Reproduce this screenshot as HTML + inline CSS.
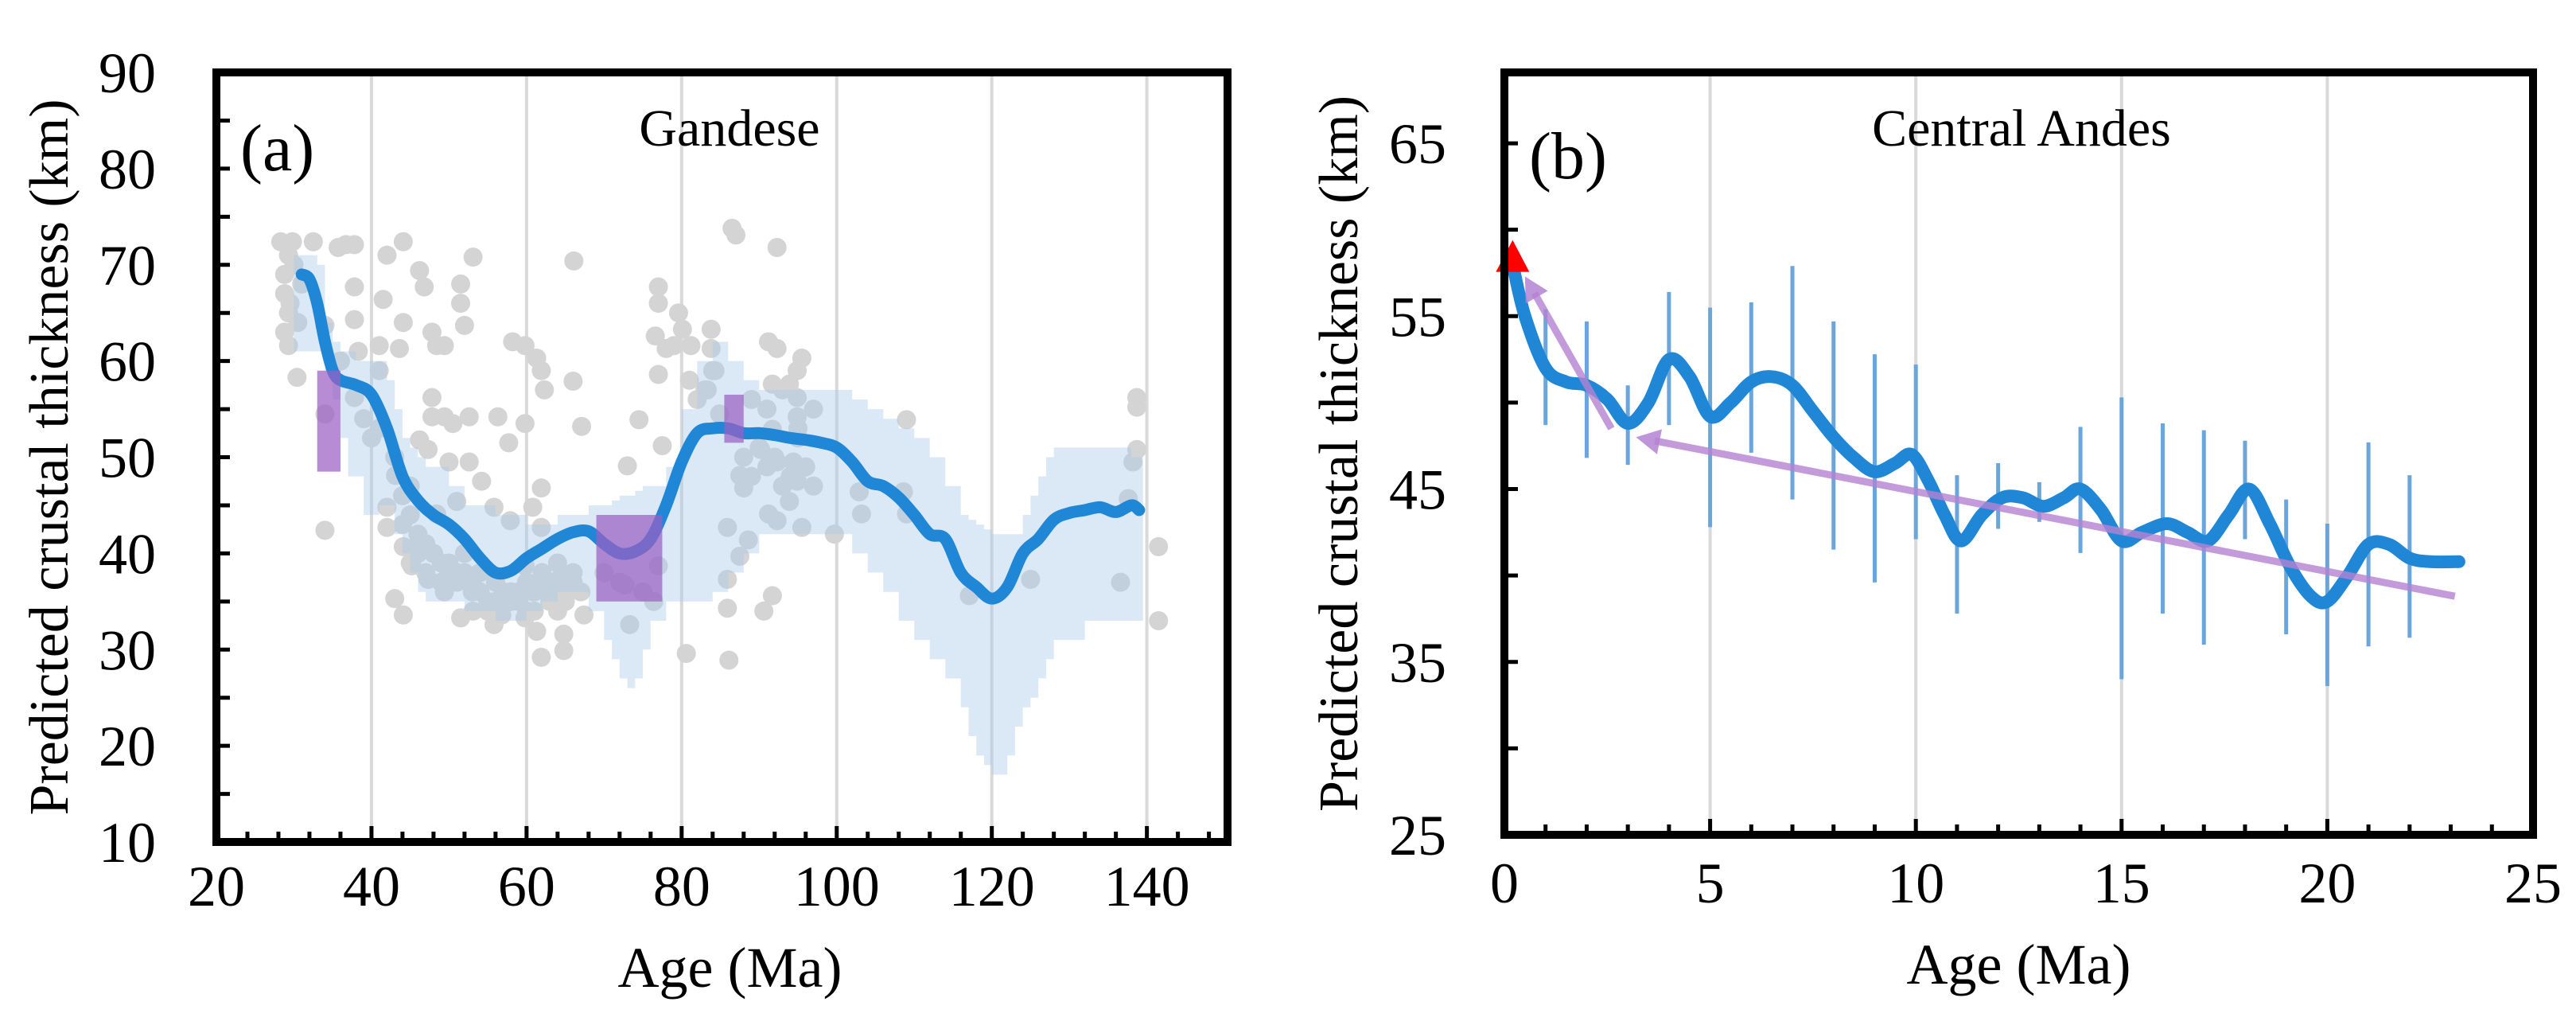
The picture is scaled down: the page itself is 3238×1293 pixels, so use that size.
<!DOCTYPE html>
<html><head><meta charset="utf-8"><style>
html,body{margin:0;padding:0;background:#fff;}
svg{display:block;}
svg text{font-family:"Liberation Serif","Times New Roman",serif;}
</style></head><body>
<svg id="fig" width="3238" height="1293" viewBox="0 0 3238 1293" xmlns="http://www.w3.org/2000/svg" font-family="Liberation Serif, serif">
<g id="pa"></g>
<g id="pb"></g>
</svg>
<script>
// ---------- Panel A data ----------
const aLineX=[31,32,33,34,35,36,38,40,42,44,46,48,50,52,54,56,58,60,62,64,66,68,70,72,74,76,78,80,82,84,86,88,90,92,94,96,98,100,102,104,106,108,110,112,114,116,118,120,122,124,126,128,130,132,134,136,138,139];
const aLineY=[69,68.5,66,62,59,58,57.5,56.5,53,48,45.5,44,43,41.5,39.5,38,38.2,39.5,40.5,41.5,42.2,42.3,41,40,40.2,41.5,45,49.5,52.5,53,53,52.5,52.5,52.3,52,51.8,51.5,51,49.5,47.5,47,45.8,44,42,41.5,38,36.5,35.3,36.5,40,41.5,43.5,44.2,44.5,44.8,44.3,45,44.5];
const aBandX=[30,31.5,33,34,35,36,37,38,39,40,41,42,43,44,45,46,47,48,50,52,54,56,58,60,62,64,66,68,70,71,72,73,74,75,76,78,80,82,84,86,88,90,92,94,96,98,100,102,104,106,108,110,112,114,116,117,118,119,120,121,122,123,124,125,126,127,128,130,132,134,136,138,139.5];
const aBandHi=[71,71,70,64,62,61,61,60,60,60,60,58,55,52,51,50,49,49,47,45,45,44,44,43,43,44,44,45,45,45.5,46,46,46.5,47,47,49,55,60,62,60,58,57,57,57,57,57,57,56,55,54,53,52,50,47,44,43.5,43,42.5,42,42,42,42,44,46,48,50,51,51,51,51,51,50,50];
const aBandLo=[61,61,61,59,56,52,48,48,44,44,45,45,42,40,38,36,35,35,35,34,34,33,33,34,35,36,36,34,31,29,27,26,27,30,33,35,35,35,36,38,40,42,42,42,42,42,42,40,38,36,33,31,29,27,24,21,19,18,17,17,19,22,24,25,27,29,31,31,33,33,33,33,33];
const aDotX=[28.3,29.8,29.3,28.8,28.8,29.3,28.8,29.3,30.4,32.5,35.7,36.7,37.8,34,34,34,37.8,37.8,41,41,37.8,38.3,42,44.1,41.5,44.1,43.6,46.2,46.8,47.8,48.4,49.4,51.5,51.5,52,53.1,47.8,47.8,49.4,50.5,52.6,46.2,47.3,50,52.6,43.1,42,42,44.1,45.2,47.3,49.4,51.5,53.1,43,44.1,55.8,56.8,48.4,51,54.2,55.8,57.9,56.3,58.2,59.8,61.3,61.9,62.3,59.8,57.7,61.9,60.8,61.9,59.8,60.8,59.8,61.3,61.9,64.8,64.8,66.1,66,67.1,64.2,67.4,73,74.5,72.7,73.3,77,77,76.6,78,77,80.1,79.6,79,81.2,77.5,77,76.4,80.6,83.8,83.8,84.3,83.3,84.9,86.5,87,85.9,85.9,85.9,86.1,87.5,88,87.5,88.6,90.2,92.3,91.2,92.3,91.7,91.7,92.3,91.2,90.6,91.7,93.9,94.9,95.5,94.9,94.9,94.4,94.9,93.9,95.5,92.3,99.7,103.2,102.9,109,108.6,109,125,136.6,138.7,138.7,138.7,138.2,137.6,141.5,141.5,117.1,46,50,54,57,63,70,72,75,44,45,46,47,48,49,50,51,52,53,54,55,56,57,58,59,60,61,62,63,64,65,66,67,44,46,48,50,52,54,56,58,60,62,64,66,45,47,49,51,53,55,57,59,61,63,65,30,31,29.5,30.5,36,39,40,41,43,45,88,89,90,91,92,93,94,95,96,97,89,91,93,95,97,81,82,83,84];
const aDotY=[72.4,72.4,71,69,67,65,63,61.6,58.3,72.4,71.8,72.1,72.1,42.4,54.5,63.7,67.7,64.3,61.6,59,56.2,61,71,72.4,66.4,64,61.3,69.4,67.7,63,61.6,61.6,68,66,63.7,70.8,56.2,54.2,54.2,53.5,54.2,51.8,50.8,49.5,49.5,48.1,44.8,42.7,40.7,38.7,37.3,36,33.3,34,35.3,33.6,32.6,33.6,44.1,45.4,47.5,44.8,43.4,54.2,62,61.6,60.3,59,57,53.5,51.5,46.8,44.8,42.7,38.7,36,33.3,31.9,29.2,31.6,29.9,70.4,57.9,53.2,37.3,33.6,49.1,53.9,36.7,32.6,67.7,66,62.6,61.3,58.6,63.3,65,61.6,61.6,51.2,38.7,35,29.6,63.3,61.3,59,57,54.5,73.8,73.1,42.7,37.3,34.3,28.9,48.1,46.8,39.7,41.4,50.8,71.8,62,61.3,57.6,52.9,49.5,44.1,34,35.6,57.6,59,60.3,56.2,54.2,49.5,47.5,45.4,42.7,43.4,42,44.1,46.4,53.9,46.4,44.1,37.3,37,56.2,55.2,50.8,49.5,45.7,40.7,33,35.6,40,38,36,35,36,38,37,36,46,44,42,41,40,39,38,37,38,37,36,35,35,36,35,35,34,36,37,35,34,36,37,36,43,41,40,39,40,38,37,36,37,38,39,38,39,38,37,38,36,34,35,36,34,36,35,70,68,66,64,60,54,52,53,50,47,50,48,51,49,50,47,48,52,49,47,56,55,57,53,55,58,56,57,59];
const aBoxX0=[33,69,85.5], aBoxX1=[36,77.5,88], aBoxY0=[48.5,35,51.5], aBoxY1=[59,44,56.5];
const aXTicks=[20,40,60,80,100,120,140];
const aYTicks=[10,20,30,40,50,60,70,80,90];
// ---------- Panel B data ----------
const bLineX=[0.2,0.5,1,1.5,2,2.5,3,3.5,4,4.5,5,5.5,6,6.5,7,7.5,8,8.5,9,9.5,9.9,10.3,10.7,11.1,11.6,12.1,12.6,13.1,13.6,14,14.5,15,15.5,16.1,16.6,17.1,17.6,18.1,18.6,19.1,19.6,20,20.5,21,21.5,22,22.5,23.2];
const bLineY=[58,55,52,51.2,51,50.2,48.8,50,52.5,51.5,49.2,50,51.2,51.5,51,49.5,48,46.8,46,46.5,47,45.5,43.5,42,43.5,44.5,44.5,44,44.5,45,43.8,42,42.5,43,42.5,42,43.5,45,43,40.5,38.8,38.5,40,41.8,41.8,41,40.8,40.8];
const bErrX=[1,2,3,4,5,6,7,8,9,10,11,12,13,14,15,16,17,18,19,20,21,22];
const bErrHi=[55.4,54.7,51,56.4,55.5,55.8,57.9,54.7,52.8,52.2,45.8,46.5,45.4,48.6,50.3,48.8,48.4,47.8,44.4,43,47.7,45.8];
const bErrLo=[48.7,46.8,46.4,48.7,42.8,47.1,44.4,41.5,39.6,42.1,37.8,42.7,43.1,41.3,34,37.8,36,42.1,36.6,33.6,35.9,36.4];
const bArrowX=[23.1,3.2,2.6,0.5], bArrowY=[38.8,48,48.5,57.3];
const bTriX=[0.2], bTriY=[58.3];
const bXTicks=[0,5,10,15,20,25];
const bYTicks=[25,35,45,55,65];

const NS="http://www.w3.org/2000/svg";
const FONT='Liberation Serif, Times New Roman, serif';
function mk(parent,tag,attrs,name){const e=document.createElementNS(NS,tag);for(const k in attrs)e.setAttribute(k,attrs[k]);


if(tag==='text')e.setAttribute('font-family',FONT);
parent.appendChild(e);return e;}
function smooth(pts){let d=`M${pts[0][0]},${pts[0][1]}`;for(let i=0;i<pts.length-1;i++){const p0=pts[Math.max(0,i-1)],p1=pts[i],p2=pts[i+1],p3=pts[Math.min(pts.length-1,i+2)];
const c1=[p1[0]+(p2[0]-p0[0])/6,p1[1]+(p2[1]-p0[1])/6],c2=[p2[0]-(p3[0]-p1[0])/6,p2[1]-(p3[1]-p1[1])/6];d+=` C${c1[0]},${c1[1]} ${c2[0]},${c2[1]} ${p2[0]},${p2[1]}`;}return d;}

// ---------- Panel A ----------
(function(){
const g=document.getElementById('pa');
const L=272,R=1543,T=91,B=1058,x0=20,x1=150.4,y0=10,y1=90;
const sx=v=>L+(v-x0)/(x1-x0)*(R-L), sy=v=>B-(v-y0)/(y1-y0)*(B-T);
aXTicks.forEach(v=>{if(v>x0)mk(g,'line',{x1:sx(v),x2:sx(v),y1:T,y2:B,stroke:'#d9d9d9','stroke-width':4},'gridline-x-'+v);});
aDotX.forEach((v,i)=>mk(g,'circle',{cx:sx(v),cy:sy(aDotY[i]),r:12,fill:'#d4d4d4'},'data-point'));
let up='',lo='';
for(let i=0;i<aBandX.length-1;i++){up+=`${sx(aBandX[i])},${sy(aBandHi[i])} ${sx(aBandX[i+1])},${sy(aBandHi[i])} `;}
for(let i=aBandX.length-2;i>=0;i--){lo+=`${sx(aBandX[i+1])},${sy(aBandLo[i])} ${sx(aBandX[i])},${sy(aBandLo[i])} `;}
mk(g,'polygon',{points:up+lo,fill:'rgba(170,202,235,0.42)'},'uncertainty-band');
mk(g,'path',{d:smooth(aLineX.map((v,i)=>[sx(v),sy(aLineY[i])])),fill:'none',stroke:'#1f87d6','stroke-width':15,'stroke-linecap':'round','stroke-linejoin':'round'},'predicted-thickness-line');
aBoxX0.forEach((v,i)=>mk(g,'rect',{x:sx(v),y:sy(aBoxY1[i]),width:sx(aBoxX1[i])-sx(v),height:sy(aBoxY0[i])-sy(aBoxY1[i]),fill:'rgba(155,95,195,0.72)'},'observed-range-box'));
for(let v=24;v<x1;v+=4){const maj=(v%20===0);mk(g,'line',{x1:sx(v),x2:sx(v),y1:B,y2:B-(maj?20:13),stroke:'#000','stroke-width':5},'x-tick');}
for(let v=15;v<y1;v+=5){mk(g,'line',{x1:L,x2:L+17,y1:sy(v),y2:sy(v),stroke:'#000','stroke-width':5},'y-tick');}
mk(g,'rect',{x:L,y:T,width:R-L,height:B-T,fill:'none',stroke:'#000','stroke-width':10},'plot-frame');
aXTicks.forEach(v=>{const t=mk(g,'text',{x:sx(v),y:1138,'text-anchor':'middle','font-size':72},'x-tick-label');t.textContent=v;});
aYTicks.forEach(v=>{const t=mk(g,'text',{x:196,y:sy(v)+25,'text-anchor':'end','font-size':72},'y-tick-label');t.textContent=v;});
let t=mk(g,'text',{x:(L+R)/2+10,y:1240,'text-anchor':'middle','font-size':72},'x-axis-title');t.textContent='Age (Ma)';
t=mk(g,'text',{x:0,y:0,'text-anchor':'middle','font-size':70,transform:`translate(85,${(T+B)/2}) rotate(-90)`},'y-axis-title');t.textContent='Predicted crustal thickness (km)';
t=mk(g,'text',{x:302,y:214,'font-size':84},'panel-label');t.textContent='(a)';
t=mk(g,'text',{x:917,y:183,'text-anchor':'middle','font-size':66},'panel-title');t.textContent='Gandese';
})();

// ---------- Panel B ----------
(function(){
const g=document.getElementById('pb');
const L=1891,R=3184,T=91,B=1049,x0=0,x1=25,y0=25,y1=69.1;
const sx=v=>L+(v-x0)/(x1-x0)*(R-L), sy=v=>B-(v-y0)/(y1-y0)*(B-T);
bXTicks.forEach(v=>{if(v>x0&&v<x1)mk(g,'line',{x1:sx(v),x2:sx(v),y1:T,y2:B,stroke:'#d9d9d9','stroke-width':4},'gridline-x-'+v);});
bErrX.forEach((v,i)=>mk(g,'line',{x1:sx(v),x2:sx(v),y1:sy(bErrHi[i]),y2:sy(bErrLo[i]),stroke:'#6aa6dc','stroke-width':5},'error-bar'));
mk(g,'path',{d:smooth(bLineX.map((v,i)=>[sx(v),sy(bLineY[i])])),fill:'none',stroke:'#1f87d6','stroke-width':16,'stroke-linecap':'round','stroke-linejoin':'round'},'predicted-thickness-line');
for(let k=0;k<bArrowX.length;k+=2){
 const ax=sx(bArrowX[k]),ay=sy(bArrowY[k]),bx=sx(bArrowX[k+1]),by=sy(bArrowY[k+1]);
 const ang=Math.atan2(by-ay,bx-ax),h=30,w=16;
 const ex=bx-Math.cos(ang)*h*0.8,ey=by-Math.sin(ang)*h*0.8;
 mk(g,'line',{x1:ax,y1:ay,x2:ex,y2:ey,stroke:'rgba(180,130,210,0.8)','stroke-width':9},'trend-arrow');
 const p=[[bx,by],[bx-Math.cos(ang)*h-Math.sin(ang)*w,by-Math.sin(ang)*h+Math.cos(ang)*w],[bx-Math.cos(ang)*h+Math.sin(ang)*w,by-Math.sin(ang)*h-Math.cos(ang)*w]];
 mk(g,'polygon',{points:p.map(q=>q.join(',')).join(' '),fill:'rgba(180,130,210,0.85)'},'trend-arrowhead');
}
bTriX.forEach((v,i)=>{const cx=sx(v),cy=sy(bTriY[i]);mk(g,'polygon',{points:`${cx},${cy-24} ${cx-21},${cy+16} ${cx+21},${cy+16}`,fill:'#ff0000'},'present-day-marker');});
for(let v=1;v<x1;v++){const maj=(v%5===0);mk(g,'line',{x1:sx(v),x2:sx(v),y1:B,y2:B-(maj?20:13),stroke:'#000','stroke-width':5},'x-tick');}
for(let v=30;v<y1;v+=5){mk(g,'line',{x1:L,x2:L+17,y1:sy(v),y2:sy(v),stroke:'#000','stroke-width':5},'y-tick');}
mk(g,'rect',{x:L,y:T,width:R-L,height:B-T,fill:'none',stroke:'#000','stroke-width':10},'plot-frame');
bXTicks.forEach(v=>{const t=mk(g,'text',{x:sx(v),y:1134,'text-anchor':'middle','font-size':72},'x-tick-label');t.textContent=v;});
bYTicks.forEach(v=>{const t=mk(g,'text',{x:1818,y:sy(v)+25,'text-anchor':'end','font-size':72},'y-tick-label');t.textContent=v;});
let t=mk(g,'text',{x:(L+R)/2,y:1236,'text-anchor':'middle','font-size':72},'x-axis-title');t.textContent='Age (Ma)';
t=mk(g,'text',{x:0,y:0,'text-anchor':'middle','font-size':70,transform:`translate(1706,${(T+B)/2}) rotate(-90)`},'y-axis-title');t.textContent='Predicted crustal thickness (km)';
t=mk(g,'text',{x:1922,y:224,'font-size':84},'panel-label');t.textContent='(b)';
t=mk(g,'text',{x:2541,y:183,'text-anchor':'middle','font-size':66},'panel-title');t.textContent='Central Andes';
})();
</script>
</body></html>
